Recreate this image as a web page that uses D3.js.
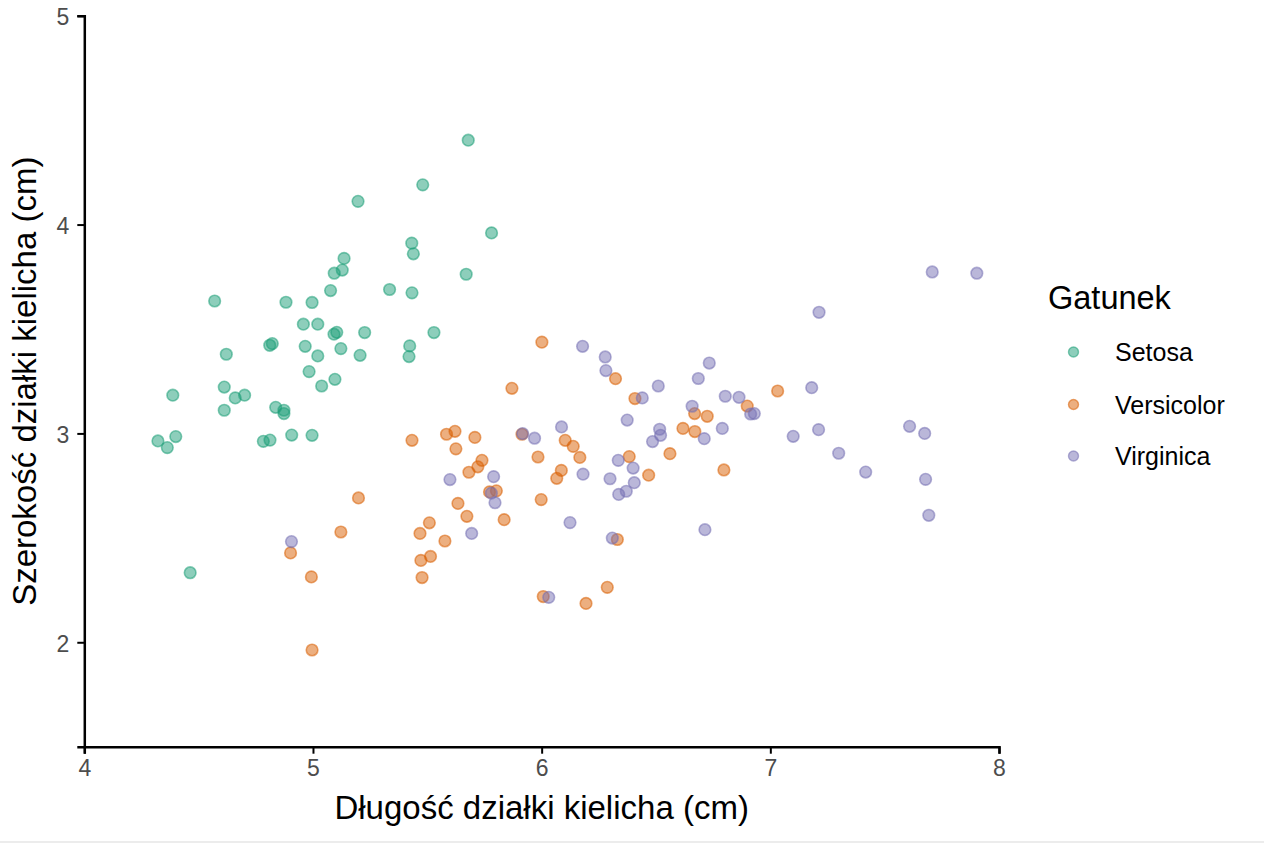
<!DOCTYPE html>
<html>
<head>
<meta charset="utf-8">
<script src="https://cdn.jsdelivr.net/npm/d3@7"></script>
<style>
  html, body { margin: 0; padding: 0; background: #fff; }
  text { font-family: "Liberation Sans", Arial, sans-serif; }
</style>
</head>
<body>
<div id="chart"></div>
<script>
"use strict"

// Iris, jittered
let species = ["Setosa", "Versicolor", "Virginica"];
let speciesColors = ["#1B9E77", "#D95F02", "#7570B3"];

let setosaLength = [5.679, 5.480, 5.197, 5.781, 5.432, 5.439, 5.136, 5.128, 5.093, 5.670,
  5.077, 5.335, 5.433, 4.570, 4.882, 4.996, 4.958, 5.021, 5.104, 5.092,
  5.226, 5.529, 4.822, 4.811, 4.966, 5.122, 5.021, 5.206, 5.423, 5.420,
  4.621, 4.983, 5.096, 5.038, 4.387, 4.612, 4.660, 4.701, 4.612, 4.837,
  4.873, 4.873, 4.907, 4.996, 4.322, 4.400, 4.363, 4.783, 4.812, 4.463];
let setosaWidth = [4.404, 4.190, 4.111, 3.960, 3.911, 3.860, 3.838, 3.782, 3.767, 3.762,
  3.684, 3.689, 3.673, 3.634, 3.628, 3.627, 3.523, 3.523, 3.484, 3.475,
  3.483, 3.483, 3.430, 3.422, 3.417, 3.406, 3.371, 3.374, 3.419, 3.368,
  3.379, 3.296, 3.259, 3.227, 3.183, 3.222, 3.170, 3.183, 3.111, 3.125,
  3.111, 3.095, 2.992, 2.991, 2.964, 2.985, 2.932, 2.962, 2.968, 2.333];

let versicolorLength = [5.433, 5.584, 5.621, 5.708, 5.625, 5.739, 5.721, 5.682, 5.772, 5.802,
  5.199, 5.634, 5.673, 5.122, 5.509, 5.468, 5.577, 5.514, 5.472, 5.477,
  4.902, 4.993, 4.996, 6.001, 5.870, 6.323, 6.408, 5.914, 6.103, 6.138,
  6.167, 5.984, 6.086, 6.066, 5.998, 5.836, 6.383, 6.468, 6.561, 6.618,
  6.670, 6.669, 6.331, 6.007, 6.287, 6.194, 7.032, 6.899, 6.724, 6.797];
let versicolorWidth = [2.967, 2.996, 3.010, 2.981, 2.926, 2.871, 2.840, 2.814, 2.720, 2.725,
  2.691, 2.665, 2.603, 2.528, 2.572, 2.521, 2.485, 2.411, 2.392, 2.310,
  2.428, 2.313, 1.963, 3.437, 3.216, 3.262, 3.167, 2.996, 2.967, 2.938,
  2.885, 2.887, 2.823, 2.785, 2.683, 2.587, 2.889, 2.800, 2.903, 3.024,
  3.009, 3.095, 2.492, 2.219, 2.263, 2.186, 3.203, 3.131, 3.082, 2.825];

let virginicaLength = [4.906, 5.599, 5.790, 5.780, 5.796, 5.694, 6.179, 6.278, 6.281, 6.510,
  6.440, 6.685, 6.658, 6.374, 6.087, 5.917, 5.969, 6.516, 6.520, 6.485,
  6.335, 6.400, 6.181, 6.299, 6.405, 6.370, 6.337, 6.124, 6.309, 6.031,
  6.714, 7.708, 7.903, 7.213, 6.733, 7.181, 6.803, 6.863, 6.914, 6.930,
  6.790, 7.211, 7.609, 7.675, 6.711, 7.100, 7.299, 7.417, 7.679, 7.693];
let virginicaWidth = [2.482, 2.779, 2.793, 2.714, 2.668, 2.521, 3.417, 3.366, 3.301, 3.227,
  3.170, 3.263, 3.130, 3.064, 3.031, 2.999, 2.977, 3.020, 2.991, 2.961,
  2.871, 2.834, 2.805, 2.783, 2.764, 2.723, 2.708, 2.573, 2.499, 2.215,
  2.539, 3.773, 3.767, 3.580, 3.337, 3.219, 3.178, 3.173, 3.093, 3.095,
  3.024, 3.018, 3.034, 3.000, 2.975, 2.986, 2.905, 2.815, 2.780, 2.608];

let xTicks = [4, 5, 6, 7, 8];
let yTicks = [2, 3, 4, 5];

let xTitle = "Długość działki kielicha (cm)";
let yTitle = "Szerokość działki kielicha (cm)";
let legendTitle = "Gatunek";

let ScatterPlot = function() {
  init();

  function init()
  {
    let width = 1264;
    let height = 843;
    let margin = {left: 84.3, top: 15.7, right: 265, bottom: 96.3};

    let points = buildPoints();

    let x = d3.scaleLinear()
              .domain([4, 8])
              .range([margin.left, width - margin.right]);
    let y = d3.scaleLinear()
              .domain([1.5, 5])
              .range([height - margin.bottom, margin.top]);
    let color = d3.scaleOrdinal()
                  .domain(species)
                  .range(speciesColors);

    let svg = d3.select("#chart").append("svg")
                .attr("width", width)
                .attr("height", height);

    svg.append("g")
       .selectAll("circle")
       .data(points)
       .enter()
       .append("circle")
       .attr("cx", d => x(d.length))
       .attr("cy", d => y(d.width))
       .attr("r", 5.8)
       .attr("fill", d => color(d.species))
       .attr("fill-opacity", 0.5)
       .attr("stroke", d => color(d.species))
       .attr("stroke-opacity", 0.55)
       .attr("stroke-width", 1.6);

    let xAxis = svg.append("g")
                   .attr("transform", "translate(0," + (height - margin.bottom) + ")")
                   .call(d3.axisBottom(x)
                   .tickValues(xTicks)
                   .tickFormat(d3.format("d"))
                   .tickSizeOuter(0)
                   .tickSize(7)
                   .tickPadding(6));
    styleAxis(xAxis);

    let yAxis = svg.append("g")
                   .attr("transform", "translate(" + margin.left + ",0)")
                   .call(d3.axisLeft(y)
                   .tickValues(yTicks)
                   .tickFormat(d3.format("d"))
                   .tickSizeOuter(0)
                   .tickSize(7)
                   .tickPadding(8));
    styleAxis(yAxis);
    yAxis.selectAll(".tick text").attr("dy", "0.38em");

    svg.append("text")
       .attr("x", (margin.left + width - margin.right) / 2)
       .attr("y", 819)
       .attr("text-anchor", "middle")
       .attr("font-size", 33)
       .attr("fill", "#000")
       .text(xTitle);

    svg.append("text")
       .attr("transform", "translate(36," + ((margin.top + height - margin.bottom) / 2) + ") rotate(-90)")
       .attr("text-anchor", "middle")
       .attr("font-size", 33)
       .attr("fill", "#000")
       .text(yTitle);

    drawLegend(svg, color);

    // thin grey strip at the very bottom of the picture
    svg.append("rect")
       .attr("x", 0)
       .attr("y", height - 2)
       .attr("width", width)
       .attr("height", 2)
       .attr("fill", "#ececec");
  }

  function buildPoints()
  {
    let temp = [];
    let lengths = [setosaLength, versicolorLength, virginicaLength];
    let widths = [setosaWidth, versicolorWidth, virginicaWidth];
    species.forEach(function(s, i){
      lengths[i].forEach(function(l, j){
        temp.push({species: s, length: l, width: widths[i][j]});
      });
    });
    return temp;
  }

  function styleAxis(g)
  {
    g.select(".domain")
     .attr("stroke", "#000")
     .attr("stroke-width", 2.5);
    g.selectAll(".tick line")
     .attr("stroke", "#000")
     .attr("stroke-width", 2);
    g.selectAll(".tick text")
     .attr("font-size", 23)
     .attr("font-family", "Liberation Sans, Arial, sans-serif")
     .attr("fill", "#4d4d4d");
  }

  function drawLegend(svg, color)
  {
    let legend = svg.append("g");
    legend.append("text")
          .attr("x", 1048)
          .attr("y", 309)
          .attr("font-size", 32.5)
          .attr("fill", "#000")
          .text(legendTitle);

    let rowY = [352, 404.5, 456];
    let item = legend.selectAll(".item")
                     .data(species)
                     .enter()
                     .append("g")
                     .attr("class", "item")
                     .attr("transform", (d, i) => "translate(0," + rowY[i] + ")");
    item.append("circle")
        .attr("cx", 1073.5)
        .attr("cy", 0)
        .attr("r", 5)
        .attr("fill", d => color(d))
        .attr("fill-opacity", 0.5)
        .attr("stroke", d => color(d))
        .attr("stroke-opacity", 0.55)
        .attr("stroke-width", 1.4);
    item.append("text")
        .attr("x", 1115)
        .attr("y", 0)
        .attr("dy", "0.36em")
        .attr("font-size", 25)
        .attr("fill", "#000")
        .text(d => d);
  }

  return {
    init
  }
}

ScatterPlot();
</script>
</body>
</html>
